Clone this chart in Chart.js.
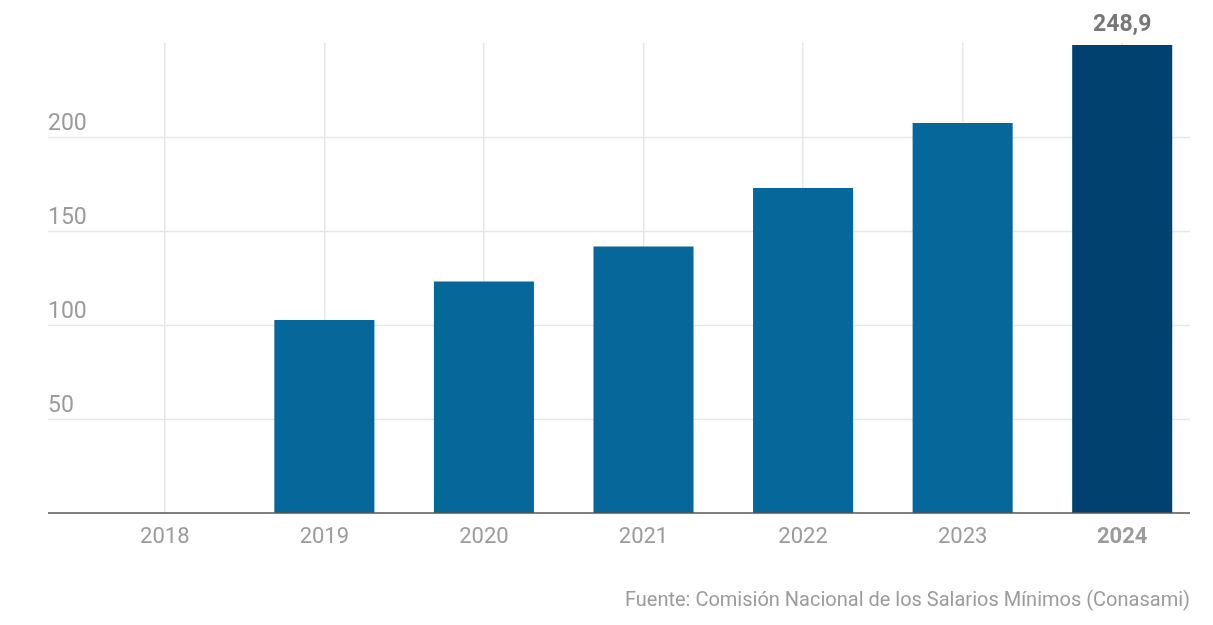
<!DOCTYPE html>
<html>
<head>
<meta charset="utf-8">
<script src="https://cdn.jsdelivr.net/npm/chart.js@4"></script>
<style>
  html, body { margin: 0; padding: 0; background: #fff; }
  #wrap { width: 1213px; height: 625px; }
</style>
</head>
<body>
<div id="wrap"><canvas id="myChart"></canvas></div>
<script>
const years = ["2018", "2019", "2020", "2021", "2022", "2023", "2024"];
const wages = [null, 102.7, 123.2, 141.7, 172.9, 207.4, 248.9];
const yTicks = [50, 100, 150, 200];
const topLabel = "248,9";
const source = "Fuente: Comisión Nacional de los Salarios Mínimos (Conasami)";

const barColors = years.map((y, i) => i === years.length - 1 ? "#00416f" : "#05679a");
const FONT = "Roboto, 'Liberation Sans', sans-serif";

// horizontal grid, y labels, baseline, value label and source line
const extras = {
  id: "extras",
  beforeDatasetsDraw(chart) {
    const ctx = chart.ctx, y = chart.scales.y, a = chart.chartArea;
    const x0 = a.left - 37, x1 = a.right - 12;
    ctx.save();
    ctx.strokeStyle = "#e6e6e6";
    ctx.lineWidth = 1.5;
    yTicks.forEach(v => {
      const py = Math.round(y.getPixelForValue(v)) + 0.5;
      ctx.beginPath(); ctx.moveTo(x0, py); ctx.lineTo(x1, py); ctx.stroke();
    });
    ctx.fillStyle = "#9b9b9b";
    ctx.font = "23px " + FONT;
    ctx.textAlign = "left";
    ctx.textBaseline = "alphabetic";
    yTicks.forEach(v => {
      ctx.fillText(String(v), x0, y.getPixelForValue(v) - 7);
    });
    ctx.restore();
  },
  afterDatasetsDraw(chart) {
    const ctx = chart.ctx, y = chart.scales.y, a = chart.chartArea;
    const x0 = a.left - 37, x1 = a.right - 12;
    ctx.save();
    ctx.strokeStyle = "#555";
    ctx.lineWidth = 1.5;
    const by = y.getPixelForValue(0);
    ctx.beginPath(); ctx.moveTo(x0, by); ctx.lineTo(x1, by); ctx.stroke();

    const last = chart.getDatasetMeta(0).data[years.length - 1];
    ctx.fillStyle = "#777";
    ctx.font = "bold 23px " + FONT;
    ctx.textAlign = "center";
    ctx.textBaseline = "bottom";
    ctx.fillText(topLabel, last.x, last.y - 8);

    ctx.fillStyle = "#9b9b9b";
    ctx.font = "20px " + FONT;
    ctx.textAlign = "right";
    ctx.textBaseline = "middle";
    ctx.fillText(source, x1, chart.height - 24);
    ctx.restore();
  }
};

new Chart("myChart", {
  type: "bar",
  data: {
    labels: years,
    datasets: [{
      data: wages,
      backgroundColor: barColors,
      borderWidth: 0,
      categoryPercentage: 1,
      barPercentage: 0.627
    }]
  },
  options: {
    responsive: true,
    maintainAspectRatio: false,
    animation: false,
    layout: { padding: { top: 43, left: 85, right: 11, bottom: 52 } },
    plugins: { legend: { display: false }, tooltip: { enabled: false } },
    scales: {
      x: {
        offset: true,
        border: { display: false },
        grid: { offset: false, color: "#e6e6e6", lineWidth: 1.5, drawTicks: false },
        ticks: {
          padding: 11,
          color: "#9b9b9b",
          font: ctx => ({
            family: FONT,
            size: 22,
            weight: ctx.index === years.length - 1 ? "bold" : "normal"
          })
        },
        afterFit: s => { s.height = 60; }
      },
      y: {
        display: false,
        min: 0,
        max: 250
      }
    }
  },
  plugins: [extras]
});
</script>
</body>
</html>
